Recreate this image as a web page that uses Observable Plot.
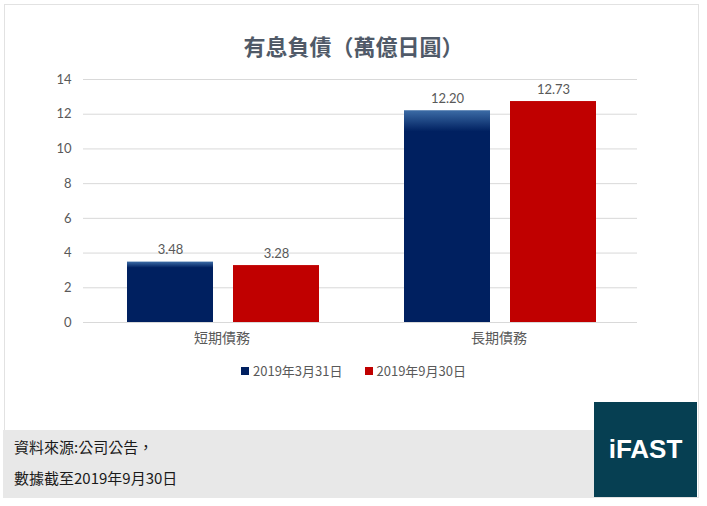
<!DOCTYPE html>
<html>
<head>
<meta charset="utf-8">
<script src="https://cdn.jsdelivr.net/npm/d3@7"></script>
<script src="https://cdn.jsdelivr.net/npm/@observablehq/plot@0.6"></script>
<style>
  html, body { margin: 0; padding: 0; background: #fff; }
  #wrap { position: relative; width: 707px; height: 506px; overflow: hidden; font-family: Lato, "Noto Sans CJK TC", sans-serif; }
  #border { position: absolute; left: 4px; top: 4px; width: 695px; height: 494px; border: 1px solid #e2e2e2; box-sizing: border-box; }
  #title { position: absolute; left: 0; top: 28px; width: 707px; text-align: center; font-family: "Noto Sans CJK TC", sans-serif; font-weight: 700; font-size: 22px; color: #505a68; line-height: 34px; }
  #chart { position: absolute; left: 0; top: 60px; }
  #legend { position: absolute; left: 0; top: 361px; width: 707px; display: flex; justify-content: center; gap: 22px; font-size: 13px; color: #595959; font-family: "Noto Sans CJK TC", sans-serif; line-height: 20px; }
  #legend span.sw { display: inline-block; width: 8px; height: 8px; margin-right: 4px; vertical-align: 1px; }
  #footer { position: absolute; left: 3px; top: 430px; width: 591px; height: 68px; background: #e8e8e8; }
  #footer div { position: absolute; left: 11px; font-size: 15px; color: #1a1a1a; font-family: "Noto Sans CJK TC", sans-serif; line-height: 20px; }
  #logo { position: absolute; left: 594px; top: 402px; width: 103px; height: 95px; background: #063f52; color: #fff; font-family: "Liberation Sans", Arial, sans-serif; font-weight: 700; font-size: 26px; display: flex; align-items: center; justify-content: center; }
</style>
</head>
<body>
<div id="wrap">
  <div id="border"></div>
  <div id="title">有息負債（萬億日圓）</div>
  <div id="chart"></div>
  <div id="legend"></div>
  <div id="footer">
    <div style="top:7px">資料來源:公司公告，</div>
    <div style="top:38px">數據截至2019年9月30日</div>
  </div>
  <div id="logo">iFAST</div>
</div>
<script>
const categories = ["短期債務", "長期債務"];
const seriesNames = ["2019年3月31日", "2019年9月30日"];
const valuesMar = [3.48, 12.20];
const valuesSep = [3.28, 12.73];
const yTicks = [0, 2, 4, 6, 8, 10, 12, 14];
const seriesColors = ["url(#navyGrad)", "#c00000"];
const legendColors = ["#002060", "#c00000"];

const seriesValues = [valuesMar, valuesSep];
const rows = categories.flatMap((c, i) =>
  seriesNames.map((s, j) => ({ category: c, series: s, value: seriesValues[j][i] }))
);

const plot = Plot.plot({
  width: 707,
  height: 300,
  marginTop: 19,
  marginBottom: 38,
  marginLeft: 83,
  marginRight: 70,
  style: { fontFamily: 'Lato, "Noto Sans CJK TC", sans-serif', color: "#595959", background: "transparent" },
  fx: { domain: categories, padding: 0, label: null },
  x: { domain: seriesNames, paddingInner: 0.189, paddingOuter: 0.401, align: 0.52, axis: null },
  y: { domain: [0, 14], label: null },
  color: { domain: seriesNames, range: seriesColors },
  marks: [
    Plot.ruleY(yTicks, { stroke: "#d9d9d9", strokeWidth: 1 }),
    Plot.axisY({ ticks: yTicks, tickSize: 0, tickPadding: 12, fontSize: 13, label: null, fill: "#595959" }),
    Plot.axisFx({ anchor: "bottom", tickSize: 0, tickPadding: 11, fontSize: 14, label: null, fill: "#595959", fontFamily: '"Noto Sans CJK TC", sans-serif' }),
    Plot.barY(rows, { fx: "category", x: "series", y: "value", fill: "series" }),
    Plot.text(rows, { fx: "category", x: "series", y: "value", text: d => d.value.toFixed(2), dy: -8, lineAnchor: "bottom", fontSize: 13, fill: "#595959" })
  ]
});

// gradient for navy bars
const ns = "http://www.w3.org/2000/svg";
const defs = document.createElementNS(ns, "defs");
const grad = document.createElementNS(ns, "linearGradient");
grad.setAttribute("id", "navyGrad");
grad.setAttribute("x1", "0"); grad.setAttribute("y1", "0");
grad.setAttribute("x2", "0"); grad.setAttribute("y2", "1");
[["0", "#3c6ca6"], ["0.1", "#002060"], ["1", "#002060"]].forEach(([o, c]) => {
  const st = document.createElementNS(ns, "stop");
  st.setAttribute("offset", o);
  st.setAttribute("stop-color", c);
  grad.appendChild(st);
});
defs.appendChild(grad);
plot.insertBefore(defs, plot.firstChild);
document.getElementById("chart").appendChild(plot);

const legend = document.getElementById("legend");
seriesNames.forEach((s, i) => {
  const item = document.createElement("div");
  const sw = document.createElement("span");
  sw.className = "sw";
  sw.style.background = legendColors[i];
  item.appendChild(sw);
  item.appendChild(document.createTextNode(s));
  legend.appendChild(item);
});
</script>
</body>
</html>
